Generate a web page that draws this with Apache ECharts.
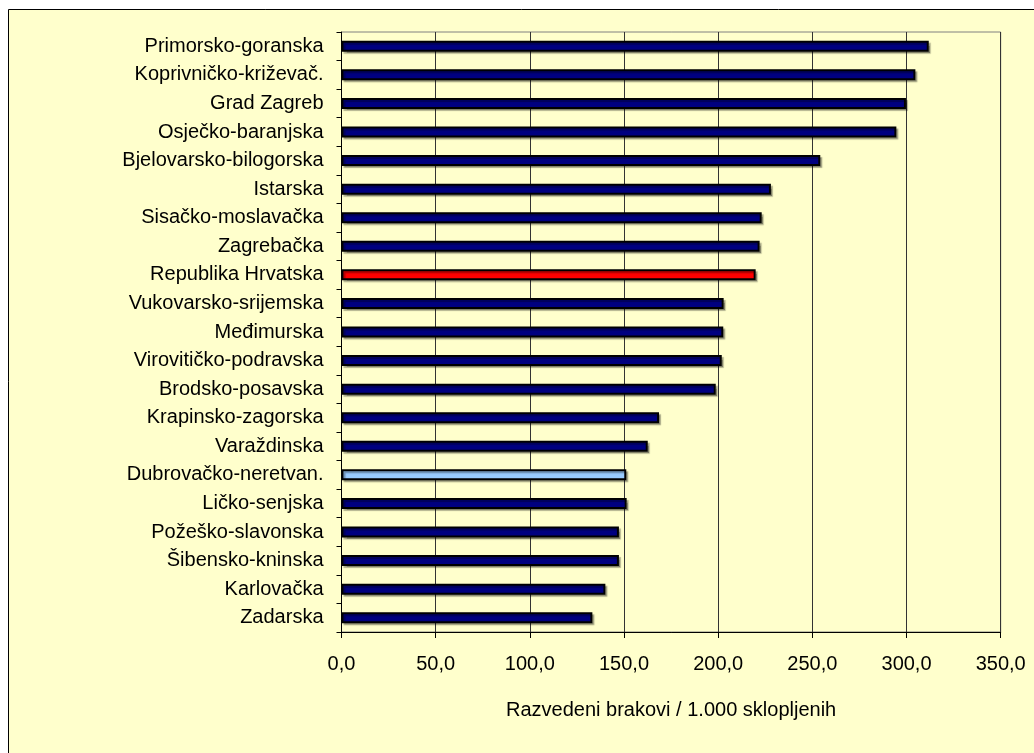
<!DOCTYPE html>
<html>
<head>
<meta charset="utf-8">
<script src="https://cdn.jsdelivr.net/npm/echarts@6/dist/echarts.min.js"></script>
<style>
  html, body { margin: 0; padding: 0; background: #fff; }
  #chart { width: 1034px; height: 753px; }
</style>
</head>
<body>
<div id="chart"></div>
<script>
// županije, od najveće do najmanje vrijednosti
const zupanije = [
  "Primorsko-goranska", "Koprivničko-križevač.", "Grad Zagreb", "Osječko-baranjska",
  "Bjelovarsko-bilogorska", "Istarska", "Sisačko-moslavačka", "Zagrebačka",
  "Republika Hrvatska", "Vukovarsko-srijemska", "Međimurska", "Virovitičko-podravska",
  "Brodsko-posavska", "Krapinsko-zagorska", "Varaždinska", "Dubrovačko-neretvan.",
  "Ličko-senjska", "Požeško-slavonska", "Šibensko-kninska", "Karlovačka", "Zadarska"
];
const razvedeni = [
  311.8, 304.7, 299.7, 294.6,
  254.2, 228.0, 223.1, 222.0,
  219.9, 202.9, 202.7, 201.9,
  198.7, 168.6, 162.6, 151.2,
  151.4, 147.3, 147.3, 140.1, 133.2
];
const xTicks = { min: 0, max: 350, interval: 50 };

const FONT = "'Liberation Sans', Arial, sans-serif";

function barColor(name) {
  if (name === "Republika Hrvatska") return "#FF0000";
  if (name === "Dubrovačko-neretvan.") return "#99CCFF";
  return "#000080";
}

let myChart = echarts.init(document.getElementById("chart"));
myChart.setOption({
  backgroundColor: "#ffffff",
  animation: false,
  textStyle: { fontFamily: FONT, color: "#000" },
  graphic: [
    {
      type: "rect",
      z: -10,
      shape: { x: 8.5, y: 9.5, width: 1040, height: 760 },
      style: { fill: "#FFFFCC", stroke: "#000", lineWidth: 1 },
    },
  ],
  grid: {
    left: 341.5,
    right: 33.3,
    top: 32,
    bottom: 121,
    show: true,
    backgroundColor: "transparent",
    borderColor: "#808080",
    borderWidth: 1,
  },
  xAxis: {
    type: "value",
    min: xTicks.min,
    max: xTicks.max,
    interval: xTicks.interval,
    name: "Razvedeni brakovi / 1.000 sklopljenih",
    nameLocation: "middle",
    nameGap: 68,
    nameTextStyle: { fontSize: 20, fontFamily: FONT, color: "#000" },
    axisLine: { show: true, lineStyle: { color: "#000", width: 1 } },
    axisTick: { show: true, length: 6, lineStyle: { color: "#000" } },
    axisLabel: {
      fontSize: 20,
      fontFamily: FONT,
      color: "#000",
      margin: 22,
      formatter: (v) => v.toFixed(1).replace(".", ","),
    },
    splitLine: { show: true, lineStyle: { color: "#333", width: 1 } },
  },
  yAxis: {
    type: "category",
    inverse: true,
    data: zupanije,
    axisLine: { show: true, lineStyle: { color: "#000", width: 1 } },
    axisTick: { show: true, length: 5, lineStyle: { color: "#000" } },
    axisLabel: { interval: 0, fontSize: 20, fontFamily: FONT, color: "#000", margin: 18 },
    splitLine: { show: false },
  },
  series: [
    {
      type: "bar",
      barWidth: 11,
      data: razvedeni.map((v, i) => ({
        value: v,
        itemStyle: { color: barColor(zupanije[i]) },
      })),
      itemStyle: {
        borderColor: "#000",
        borderWidth: 2,
        shadowColor: "rgba(0,0,0,0.3)",
        shadowOffsetX: 2,
        shadowOffsetY: 2,
        shadowBlur: 1,
      },
    },
  ],
});
window.addEventListener("resize", () => {
  myChart.resize();
});
</script>
</body>
</html>
